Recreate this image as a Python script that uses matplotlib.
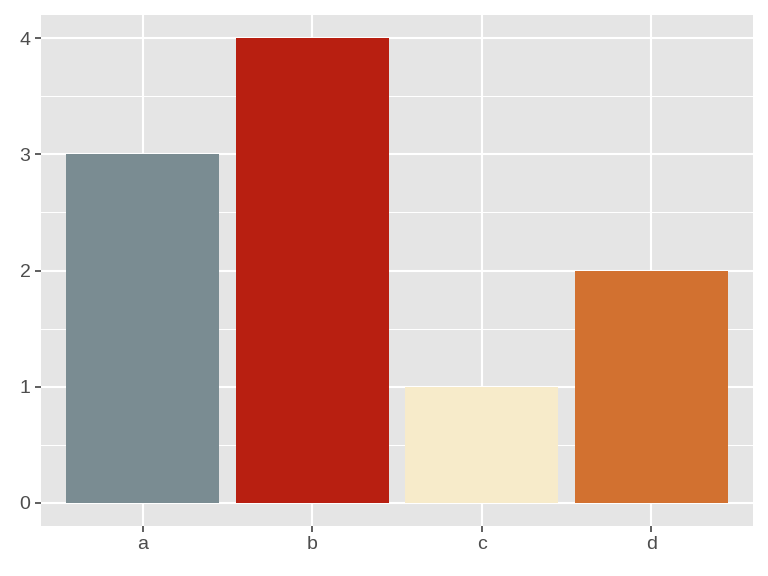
import matplotlib.pyplot as plt
from matplotlib.ticker import MultipleLocator

# data
categories = ["a", "b", "c", "d"]
values = [3, 4, 1, 2]
bar_colors = ["#7A8C92", "#B81F11", "#F7EBCA", "#D27130"]

plt.rcParams["font.family"] = ["Liberation Sans", "DejaVu Sans"]

fig = plt.figure(figsize=(7.68, 5.76), dpi=100)
ax = fig.add_axes([41 / 768, 50 / 576, 712 / 768, 511 / 576])

x = list(range(1, len(categories) + 1))
ax.bar(x, values, width=0.9, color=bar_colors, zorder=3)

# ggplot-like look
ax.set_facecolor("#E5E5E5")
ax.set_xlim(0.4, 4.6)
ax.set_ylim(-0.2, 4.2)
ax.set_xticks(x)
ax.set_xticklabels(categories)
ax.yaxis.set_major_locator(MultipleLocator(1))
ax.yaxis.set_minor_locator(MultipleLocator(0.5))

ax.grid(which="major", color="white", linewidth=1.5, zorder=0)
ax.grid(which="minor", axis="y", color="white", linewidth=0.75, zorder=0)
ax.set_axisbelow(True)

for s in ax.spines.values():
    s.set_visible(False)

ax.tick_params(which="major", length=4.5, width=1.1, color="#333333",
               labelsize=14, labelcolor="#4D4D4D", pad=3)
ax.tick_params(which="minor", length=0)

fig.savefig("out.png", dpi=100)
